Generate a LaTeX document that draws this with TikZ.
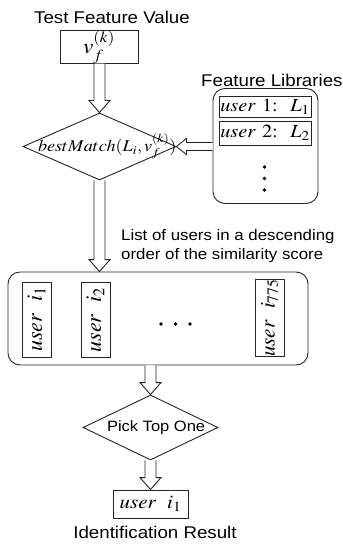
\documentclass[tikz,border=0pt]{standalone}
\usepackage{mathptmx}
\usepackage[no-math]{fontspec}
\setmainfont{Liberation Sans}[FakeStretch=1.1]
\usepackage{graphicx}
\usetikzlibrary{shapes.geometric,calc}

% horizontally widened math
\newcommand\sx[1]{\scalebox{1.1}[1]{#1}}

% hollow block arrow pointing down, from point #1 to point #2 (same x)
\newcommand\hollowdown[2]{%
  \draw[hollow] let \p1=#1, \p2=#2 in
    (\x1-5.5,\y1) -- (\x1-5.5,\y2+12) -- (\x1-10.5,\y2+12) -- (\x1,\y2)
    -- (\x1+10.5,\y2+12) -- (\x1+5.5,\y2+12) -- (\x1+5.5,\y1);}
% hollow block arrow pointing left, from point #1 to point #2 (same y)
\newcommand\hollowleft[2]{%
  \draw[hollow] let \p1=#1, \p2=#2 in
    (\x1,\y1+4) -- (\x2+10,\y1+4) -- (\x2+10,\y1+8) -- (\x2,\y1)
    -- (\x2+10,\y1-8) -- (\x2+10,\y1-4) -- (\x1,\y1-4);}

\tikzset{
  line/.style={draw=black!85, line width=0.9pt},
  hollow/.style={line, fill=white, line join=miter},
  box/.style={line, rectangle, inner sep=0pt, fill=white},
  rbox/.style={line, rectangle, rounded corners=12pt, inner sep=0pt},
  decision/.style={line, diamond, inner sep=0pt, fill=white},
  caption/.style={inner sep=0pt, font=\fontsize{17}{20}\selectfont},
  note/.style={inner sep=0pt, align=left, font=\fontsize{15.3}{19.5}\selectfont},
  dot/.style={circle, fill=black, inner sep=0pt, minimum size=3.6pt},
}

\begin{document}
\begin{tikzpicture}[x=1pt, y=-1pt]
\useasboundingbox (0,0) rectangle (342,545);

% input
\node[caption] (ttest) at (112,17) {Test Feature Value};
\node[box, minimum width=78, minimum height=32] (vbox) at (99,47)
  {\fontsize{21}{23}\selectfont\sx{$v_f^{(k)}$}};

% matching step
\node[decision, minimum width=153, minimum height=67] (d1) at (99.5,146.5)
  {\makebox[0pt][l]{\hspace*{-61.5pt}\fontsize{16.5}{19}\selectfont\sx{$bestMatch(L_i,v_f^{(k)})$}}};

% feature libraries
\node[caption, anchor=west] (tlib) at (201,80) {Feature Libraries};
\node[rbox, minimum width=105, minimum height=115] (lib) at (265.5,146) {};
\node[box, minimum width=92, minimum height=21] (u1) at (265,107)
  {\fontsize{18.5}{20}\selectfont\sx{$user\ 1{:}\ \ L_1$}};
\node[box, minimum width=92, minimum height=24] (u2) at (265,133)
  {\fontsize{18.5}{20}\selectfont\sx{$user\ 2{:}\ \ L_2$}};
\node[dot] (ld1) at (264.5,167) {};
\node[dot] (ld2) at (264.5,178.5) {};
\node[dot] (ld3) at (264.5,190) {};

% ranked list
\node[note, anchor=north west] (tlist) at (121,229)
  {List of users in a descending\\order of the similarity score};
\node[rbox, minimum width=300, minimum height=93] (list) at (158,318.5) {};
\node[box, rotate=90, minimum width=75, minimum height=29] (i1) at (36.5,319.5)
  {\fontsize{22}{24}\selectfont$user\;\ i_1$};
\node[box, rotate=90, minimum width=75, minimum height=29] (i2) at (95.5,320)
  {\fontsize{22}{24}\selectfont$user\;\ i_2$};
\node[box, rotate=90, minimum width=75, minimum height=29] (i775) at (269.5,318)
  {\fontsize{21}{23}\selectfont$user\;\ i_{775}$};
\node[dot] (ldA) at (161,324) {};
\node[dot] (ldB) at (175.5,324) {};
\node[dot] (ldC) at (190,324) {};

% selection step
\node[decision, minimum width=135, minimum height=65] (d2) at (150.5,427.5)
  {\makebox[0pt][l]{\hspace*{-43.5pt}\fontsize{15}{18}\selectfont Pick Top One}};

% output
\node[box, minimum width=75, minimum height=28] (res) at (150.5,504)
  {\fontsize{19}{21}\selectfont\sx{$user\;\ i_1$}};
\node[caption] (tres) at (155,532) {Identification Result};

% block arrows
\hollowdown{(d1.north |- vbox.south)}{(d1.north)}
\hollowleft{(lib.west |- d1.east)}{(d1.east)}
\hollowdown{(d1.south)}{(d1.south |- list.north)}
\hollowdown{(d2.north |- list.south)}{(d2.north)}
\hollowdown{(d2.south)}{(res.north)}
\end{tikzpicture}
\end{document}
